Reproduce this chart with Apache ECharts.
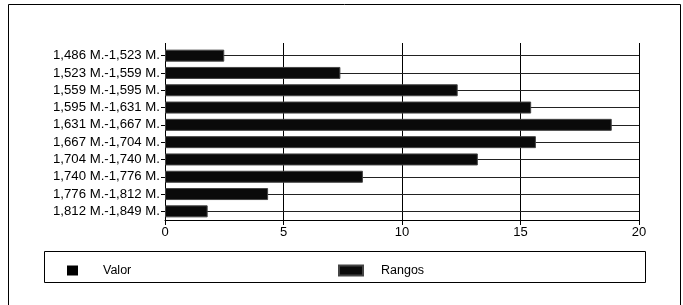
<!DOCTYPE html>
<html>
<head>
<meta charset="utf-8">
<script src="https://cdn.jsdelivr.net/npm/echarts@6/dist/echarts.min.js"></script>
<style>
html,body{margin:0;padding:0;background:#fff;}
#c{width:683px;height:305px;}
</style>
</head>
<body>
<div id="c"></div>
<script>
var categories = [
  '1,486 M.-1,523 M.', '1,523 M.-1,559 M.', '1,559 M.-1,595 M.', '1,595 M.-1,631 M.',
  '1,631 M.-1,667 M.', '1,667 M.-1,704 M.', '1,704 M.-1,740 M.', '1,740 M.-1,776 M.',
  '1,776 M.-1,812 M.', '1,812 M.-1,849 M.'
];
var rangos = [2.5, 7.4, 12.35, 15.45, 18.85, 15.65, 13.2, 8.35, 4.35, 1.8];
var seriesNames = ['Valor', 'Rangos'];
var xTicks = [0, 5, 10, 15, 20];

var FONT = 'Liberation Sans, Arial, sans-serif';
var chart = echarts.init(document.getElementById('c'), null, {renderer: 'canvas'});
chart.setOption({
  animation: false,
  backgroundColor: '#fff',
  grid: {left: 165, right: 44, top: 47, bottom: 85, containLabel: false},
  xAxis: [{
    type: 'value', position: 'bottom',
    min: xTicks[0], max: xTicks[xTicks.length - 1], interval: 5,
    axisLine: {show: true, lineStyle: {color: '#000', width: 1}},
    axisTick: {show: true, length: 5, lineStyle: {color: '#000'}},
    axisLabel: {color: '#000', fontFamily: FONT, fontSize: 13, margin: 6},
    splitLine: {show: true, lineStyle: {color: '#000', width: 1}}
  }, {
    type: 'value', position: 'top',
    min: xTicks[0], max: xTicks[xTicks.length - 1], interval: 5,
    axisLine: {show: false},
    axisTick: {show: true, length: 4, lineStyle: {color: '#000'}},
    axisLabel: {show: false},
    splitLine: {show: false}
  }],
  yAxis: {
    type: 'category', inverse: true, data: categories,
    axisLine: {show: true, lineStyle: {color: '#000', width: 1}},
    axisTick: {show: true, alignWithLabel: true, length: 4, lineStyle: {color: '#000'}},
    axisLabel: {color: '#000', fontFamily: FONT, fontSize: 13.2, margin: 5},
    splitLine: {show: false}
  },
  legend: [{
    left: 62, top: 259, itemWidth: 11, itemHeight: 10, itemGap: 10,
    data: [{name: seriesNames[0], icon: 'rect', itemStyle: {color: '#000', opacity: 1}}],
    textStyle: {color: '#000', fontFamily: FONT, fontSize: 12.5, padding: [0, 0, 0, 20]}
  }, {
    left: 333, top: 259, itemWidth: 24, itemHeight: 10, itemGap: 10,
    data: [{name: seriesNames[1], icon: 'rect'}],
    textStyle: {color: '#000', fontFamily: FONT, fontSize: 12.5, padding: [0, 0, 0, 13]}
  }],
  graphic: [
    {type: 'rect', silent: true, z: -1, shape: {x: 8.5, y: 4.5, width: 672, height: 310},
     style: {fill: null, stroke: '#000', lineWidth: 1}},
    {type: 'rect', silent: true, z: -1, shape: {x: 44.5, y: 251.5, width: 601, height: 31},
     style: {fill: null, stroke: '#000', lineWidth: 1}}
  ],
  series: [{
    name: seriesNames[0], type: 'scatter', data: [], itemStyle: {color: '#000', opacity: 1}
  }, {
    name: seriesNames[1], type: 'bar', data: rangos, barWidth: 12,
    itemStyle: {color: '#0a0a0a', borderColor: '#444', borderWidth: 1},
    markLine: {
      silent: true, symbol: 'none', z: 1,
      label: {show: false},
      lineStyle: {color: '#222', type: 'solid', width: 1},
      data: categories.map(function (c) { return {yAxis: c}; })
    }
  }]
});
</script>
</body>
</html>
